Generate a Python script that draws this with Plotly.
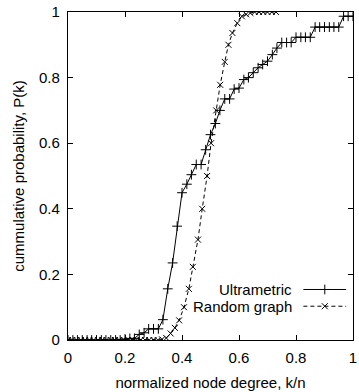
import plotly.graph_objects as go

# Ultrametric series
ultra_x = [0.0, 0.017, 0.033, 0.05, 0.067, 0.083, 0.10, 0.117, 0.133, 0.15, 0.167, 0.183, 0.20,
           0.217, 0.233, 0.25, 0.267, 0.283, 0.30, 0.317, 0.333, 0.35, 0.367, 0.383, 0.40,
           0.417, 0.433, 0.45, 0.467, 0.483, 0.50, 0.517, 0.533, 0.55, 0.567, 0.583, 0.60,
           0.617, 0.633, 0.65, 0.667, 0.683, 0.70, 0.717, 0.733, 0.75, 0.767, 0.783, 0.80,
           0.817, 0.833, 0.85, 0.867, 0.883, 0.90, 0.917, 0.933, 0.95, 0.967, 0.983, 1.0]
ultra_y = [0.0, 0.0, 0.0, 0.0, 0.0, 0.0, 0.0, 0.0, 0.0, 0.0, 0.0, 0.0, 0.003,
           0.005, 0.005, 0.017, 0.022, 0.034, 0.034, 0.034, 0.062, 0.156, 0.235, 0.347, 0.449,
           0.475, 0.504, 0.535, 0.535, 0.58, 0.626, 0.66, 0.70, 0.735, 0.735, 0.765, 0.768,
           0.794, 0.80, 0.815, 0.83, 0.84, 0.85, 0.87, 0.89, 0.907, 0.907, 0.907, 0.923,
           0.923, 0.923, 0.923, 0.954, 0.954, 0.954, 0.954, 0.954, 0.954, 0.987, 0.987, 0.987]

# Random graph series
rand_x = [0.0, 0.015, 0.03, 0.045, 0.06, 0.075, 0.09, 0.105, 0.12, 0.135, 0.15, 0.165, 0.18,
          0.195, 0.21, 0.225, 0.24, 0.255, 0.27, 0.285, 0.30, 0.315, 0.33, 0.345, 0.36,
          0.375, 0.39, 0.407, 0.424, 0.438, 0.456, 0.471, 0.488, 0.502, 0.52, 0.534, 0.55,
          0.563, 0.577, 0.594, 0.61, 0.625, 0.64, 0.655, 0.67, 0.685, 0.70, 0.715, 0.73]
rand_y = [0.0, 0.0, 0.0, 0.0, 0.0, 0.0, 0.0, 0.0, 0.0, 0.0, 0.0, 0.0, 0.0,
          0.0, 0.0, 0.0, 0.0, 0.0, 0.0, 0.0, 0.0, 0.0, 0.002, 0.006, 0.02,
          0.037, 0.06, 0.10, 0.156, 0.223, 0.306, 0.40, 0.50, 0.60, 0.70, 0.778, 0.848,
          0.90, 0.936, 0.966, 0.987, 0.993, 0.997, 1.0, 1.0, 1.0, 1.0, 1.0, 1.0]

tick_vals = [0, 0.2, 0.4, 0.6, 0.8, 1]
tick_text = ["0", "0.2", "0.4", "0.6", "0.8", "1"]

FONT = "Liberation Sans, Arial, sans-serif"

plus_marker = dict(symbol="cross-thin-open", size=7, color="black",
                   line=dict(color="black", width=1))
x_marker = dict(symbol="x-thin-open", size=6, color="black",
                line=dict(color="black", width=1))

fig = go.Figure()
fig.add_trace(go.Scatter(x=ultra_x, y=ultra_y, mode="lines+markers", showlegend=False,
                         line=dict(color="black", width=1), marker=plus_marker))
fig.add_trace(go.Scatter(x=rand_x, y=rand_y, mode="lines+markers", showlegend=False,
                         line=dict(color="black", width=1, dash="4px,3px"), marker=x_marker))

# legend samples (gnuplot style: text then sample) on hidden overlay axes
leg_x = [0.826, 0.901, 0.976]
fig.add_trace(go.Scatter(x=leg_x, y=[0.154] * 3, xaxis="x2", yaxis="y2", showlegend=False,
                         mode="lines", line=dict(color="black", width=1)))
fig.add_trace(go.Scatter(x=[leg_x[1]], y=[0.154], xaxis="x2", yaxis="y2", showlegend=False,
                         mode="markers", marker=plus_marker))
fig.add_trace(go.Scatter(x=leg_x, y=[0.103] * 3, xaxis="x2", yaxis="y2", showlegend=False,
                         mode="lines", line=dict(color="black", width=1, dash="4px,3px")))
fig.add_trace(go.Scatter(x=[leg_x[1]], y=[0.103], xaxis="x2", yaxis="y2", showlegend=False,
                         mode="markers", marker=x_marker))

fig.add_annotation(x=0.793, y=0.154, xref="paper", yref="paper", text="Ultrametric",
                   showarrow=False, xanchor="right", yanchor="middle",
                   font=dict(family=FONT, size=15, color="black"))
fig.add_annotation(x=0.793, y=0.103, xref="paper", yref="paper", text="Random graph",
                   showarrow=False, xanchor="right", yanchor="middle",
                   font=dict(family=FONT, size=15, color="black"))

axis_common = dict(showgrid=False, zeroline=False, showline=True, linecolor="black",
                   linewidth=1.3, mirror="allticks", ticks="inside", ticklen=5,
                   tickcolor="black", tickwidth=1, tickvals=tick_vals, ticktext=tick_text,
                   ticklabeloverflow="allow",
                   tickfont=dict(family=FONT, size=15, color="black"))

fig.update_layout(
    width=359, height=392,
    margin=dict(l=68, r=2, t=12, b=52),
    plot_bgcolor="white", paper_bgcolor="white",
    font=dict(family=FONT, size=15, color="black"),
    xaxis=dict(range=[0, 1], ticklabelstandoff=4,
               title=dict(text="normalized node degree, k/n", standoff=12,
                          font=dict(family=FONT, size=15)),
               **axis_common),
    yaxis=dict(range=[0, 1], ticklabelstandoff=4,
               title=dict(text="cummulative probability, P(k)", standoff=10,
                          font=dict(family=FONT, size=15)),
               **axis_common),
    xaxis2=dict(range=[0, 1], overlaying="x", visible=False),
    yaxis2=dict(range=[0, 1], overlaying="y", visible=False),
)

fig.write_html("out.html")
